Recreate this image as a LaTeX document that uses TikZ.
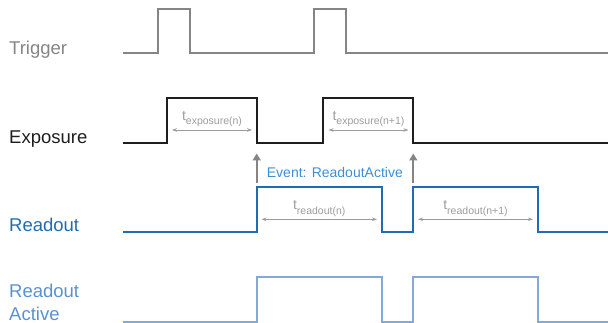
\documentclass[tikz,border=0pt]{standalone}
\usepackage{fontspec}
\setmainfont{Liberation Sans}
\usetikzlibrary{arrows.meta,positioning,calc}
\definecolor{trgray}{HTML}{858585}
\definecolor{expblack}{HTML}{1E1E1E}
\definecolor{rdblue}{HTML}{1F6CB4}
\definecolor{actblue}{HTML}{82A8DC}
\definecolor{acttext}{HTML}{5A90D2}
\definecolor{evblue}{HTML}{3D8ED6}
\definecolor{dimgray}{HTML}{9C9C9C}
\newcommand{\tidx}[1]{t\raisebox{-4.5pt}{\fontsize{10.5}{12}\selectfont #1}}
\tikzset{
  sig/.style={line width=2pt,line join=miter},
  jel/.style={anchor=base west,font=\fontsize{18.5}{23}\selectfont,inner sep=0pt},
  ido/.style={dimgray,line width=0.8pt,{Stealth[length=5pt,width=3.5pt]}-{Stealth[length=5pt,width=3.5pt]}},
  idolab/.style={anchor=base,font=\fontsize{14}{16}\selectfont,text=dimgray,inner sep=0pt},
  esem/.style={draw=trgray,line width=2pt,-{Triangle[length=7pt,width=8pt]}},
}

\begin{document}
\begin{tikzpicture}[x=1pt,y=-1pt]
  \useasboundingbox (0,0) rectangle (608,323);
  % signal names
  \node[jel,text=trgray] (trig) at (9,55) {Trigger};
  \node[jel,text=expblack] (expo) at (9,144) {Exposure};
  \node[jel,text=rdblue] (read) at (9,231.7) {Readout};
  \node[jel,text=acttext] (ract) at (9,298) {Readout};
  \node[jel,text=acttext] (ract2) at (9,320.5) {Active};
  % waveforms
  \draw[sig,trgray] (122.7,52.7) -- (158,52.7) |- (189.5,9.3) |- (314,52.7) |- (345.5,9.3) |- (608,52.7);
  \draw[sig,expblack] (122.7,142.7) -- (166.7,142.7) |- (256.7,98.3) |- (323.3,142.7) |- (412.7,98.3) |- (608,142.7);
  \draw[sig,rdblue] (122.7,231.7) -- (256.7,231.7) |- (381.7,187.3) |- (413.3,231.7) |- (537.7,187.3) |- (608,231.7);
  \draw[sig,actblue] (122.7,321.5) -- (256.7,321.5) |- (381.7,276.7) |- (413.3,321.5) |- (537.7,276.7) |- (608,321.5);
  % durations
  \foreach \nm/\xa/\xb/\y/\txt in {en/172/252/130/exposure(n), en1/328.5/408.5/130/exposure(n+1),
      rn/261.5/377/219.3/readout(n), rn1/418/533/219.3/readout(n+1)} {
    \coordinate (\nm-a) at (\xa,\y);
    \coordinate (\nm-b) at (\xb,\y);
    \draw[ido] (\nm-a) -- (\nm-b);
    \node[idolab] (\nm-lab) at ([yshift=9.5pt]$(\nm-a)!0.5!(\nm-b)$) {\tidx{\txt}};
  }
  % readout events
  \coordinate (ev1-a) at (256.7,183.5);
  \coordinate (ev1-b) at (256.7,153.5);
  \coordinate (ev2-a) at (413.3,183.5);
  \coordinate (ev2-b) at (413.3,153.5);
  \draw[esem] (ev1-a) -- (ev1-b);
  \draw[esem] (ev2-a) -- (ev2-b);
  \node[anchor=base west,inner sep=0pt,text=evblue,font=\fontsize{14}{17}\selectfont] (evlab) at (266.7,177.3) {Event: ReadoutActive};
\end{tikzpicture}
\end{document}
